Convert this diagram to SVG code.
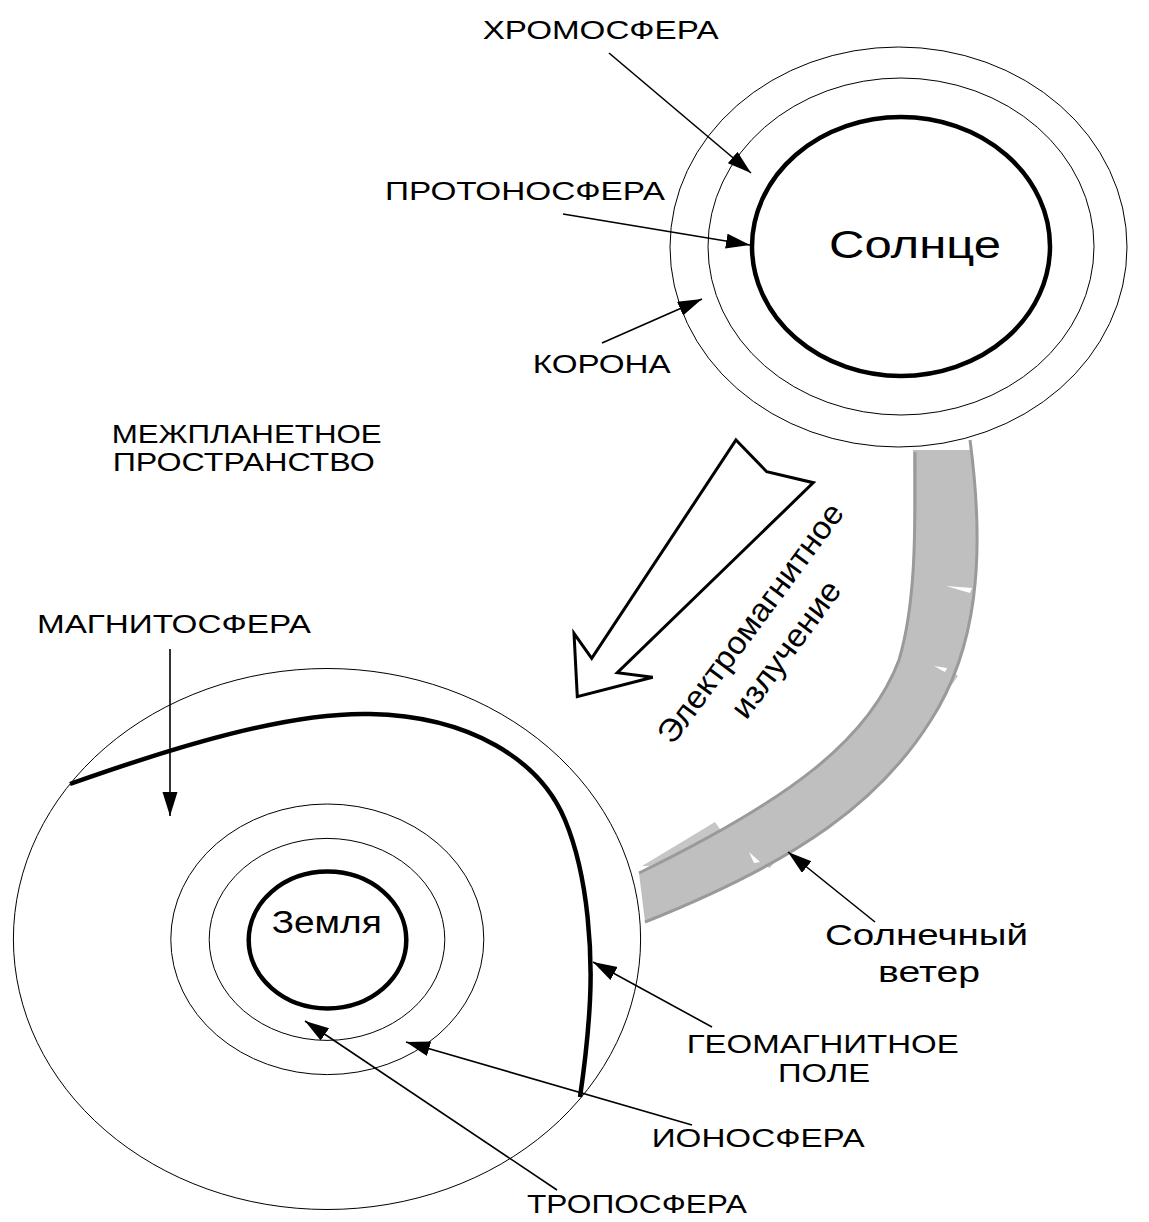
<svg xmlns="http://www.w3.org/2000/svg" width="1149" height="1222" viewBox="0 0 1149 1222">
<style>
text{font-family:"Liberation Sans",Arial,sans-serif;fill:#000}
.thin{fill:none;stroke:#000;stroke-width:1}
.thick{fill:none;stroke:#000;stroke-width:4.5}
.cap{font-size:26px}
.cap2{font-size:25px}
#connectors line{stroke:#000;stroke-width:1.6;marker-end:url(#ah)}
.edge{fill:none;stroke:#9a9a9a;stroke-width:3}
.shard{fill:#c6c6c6}
.notch{fill:#fff}
</style>
<defs>
<marker id="ah" markerUnits="userSpaceOnUse" markerWidth="26" markerHeight="16" refX="24" refY="7.5" orient="auto"><path d="M0,0 L24,7.5 L0,15 Z" fill="#000"/></marker>
</defs>
<rect width="1149" height="1222" fill="#fff"/>

<g id="sun">
<ellipse class="thin" cx="898.5" cy="247" rx="228.5" ry="200"/>
<ellipse class="thin" cx="901" cy="246.5" rx="193" ry="168.5"/>
<ellipse class="thick" cx="901" cy="246.5" rx="149" ry="129.5"/>
<text x="829" y="258" font-size="38" textLength="172" lengthAdjust="spacingAndGlyphs">Солнце</text>
</g>

<g id="solar-wind">
<polygon class="shard" points="948,668 958,676 893,766 885,760"/>
<polygon class="shard" points="770,848 792,838 770,868 760,864"/>
<polygon class="shard" points="715,822 722,832 650,866 642,866"/>
<path d="M913,450 L971,450 C986,560 976,650 931,720 C881,800 801,860 645,922 L639,873 C789,800 869,740 899,660 C917,600 913,520 913,450 Z" fill="#bfbfbf"/>
<path class="edge" d="M970,440 C986,560 976,650 931,720 C881,800 801,860 645,922"/>
<path class="edge" d="M639,873 C789,800 869,740 899,660 C917,600 915,520 915,452"/>
<polygon class="notch" points="946,586 972,588 970,593"/>
<polygon class="notch" points="934,666 947,668 945,672"/>
<polygon class="notch" points="749,852 760,862 754,863"/>
</g>

<g id="earth">
<ellipse class="thin" cx="327" cy="939" rx="313.6" ry="270.5"/>
<ellipse class="thin" cx="327.3" cy="939.3" rx="156.5" ry="135.3"/>
<ellipse class="thin" cx="327" cy="939.4" rx="117.8" ry="101"/>
<ellipse class="thick" cx="327.5" cy="940" rx="78.8" ry="68.4"/>
<text x="271.7" y="933.3" font-size="31" textLength="110" lengthAdjust="spacingAndGlyphs">Земля</text>
</g>

<g id="geomagnetic-field">
<path class="thick" d="M70,784 C180,745 290,712 370,714 C470,716 540,760 565,820 C590,880 592,960 590,1000 C588,1040 584,1070 580,1097"/>
</g>

<g id="em-radiation">
<polygon points="736,440 766.7,471.7 813.3,482.7 617.3,672.7 652.7,677.3 577.3,696.7 574,633.3 591.7,658.3" fill="#fff" stroke="#000" stroke-width="3"/>
<g transform="translate(776,642) rotate(-53.5)">
<text x="0" y="-21" font-size="32" text-anchor="middle" textLength="290" lengthAdjust="spacingAndGlyphs">Электромагнитное</text>
<text x="0" y="23" font-size="32" text-anchor="middle" textLength="162" lengthAdjust="spacingAndGlyphs">излучение</text>
</g>
</g>

<g id="labels">
<g id="label-chromosphere"><text class="cap" x="482.7" y="39" textLength="236" lengthAdjust="spacingAndGlyphs">ХРОМОСФЕРА</text></g>
<g id="label-protonosphere"><text class="cap" x="385" y="200" textLength="280" lengthAdjust="spacingAndGlyphs">ПРОТОНОСФЕРА</text></g>
<g id="label-corona"><text class="cap" x="532.7" y="373" textLength="138" lengthAdjust="spacingAndGlyphs">КОРОНА</text></g>
<g id="label-interplanetary"><text class="cap2" x="111.7" y="442.5" textLength="270" lengthAdjust="spacingAndGlyphs">МЕЖПЛАНЕТНОЕ</text>
<text class="cap2" x="112.7" y="471" textLength="262" lengthAdjust="spacingAndGlyphs">ПРОСТРАНСТВО</text></g>
<g id="label-magnetosphere"><text class="cap" x="37" y="633" textLength="274" lengthAdjust="spacingAndGlyphs">МАГНИТОСФЕРА</text></g>
<g id="label-solar-wind"><text x="825" y="945" font-size="29" textLength="203" lengthAdjust="spacingAndGlyphs">Солнечный</text>
<text x="878" y="982" font-size="29" textLength="102" lengthAdjust="spacingAndGlyphs">ветер</text></g>
<g id="label-geomagnetic"><text class="cap2" x="686.7" y="1053" textLength="272" lengthAdjust="spacingAndGlyphs">ГЕОМАГНИТНОЕ</text>
<text class="cap2" x="778" y="1081.5" textLength="92" lengthAdjust="spacingAndGlyphs">ПОЛЕ</text></g>
<g id="label-ionosphere"><text class="cap" x="651.7" y="1147" textLength="213" lengthAdjust="spacingAndGlyphs">ИОНОСФЕРА</text></g>
<g id="label-troposphere"><text class="cap" x="527" y="1213" textLength="220" lengthAdjust="spacingAndGlyphs">ТРОПОСФЕРА</text></g>
</g>

<g id="connectors">
<line x1="609" y1="53" x2="751" y2="173"/>
<line x1="563" y1="214" x2="750" y2="245"/>
<line x1="602" y1="343" x2="702" y2="299"/>
<line x1="170" y1="649" x2="170" y2="816"/>
<line x1="712" y1="1027" x2="593" y2="962"/>
<line x1="692" y1="1125" x2="406" y2="1042"/>
<line x1="557" y1="1190" x2="305" y2="1021"/>
<line x1="875" y1="922" x2="788" y2="852"/>
</g>
</svg>
